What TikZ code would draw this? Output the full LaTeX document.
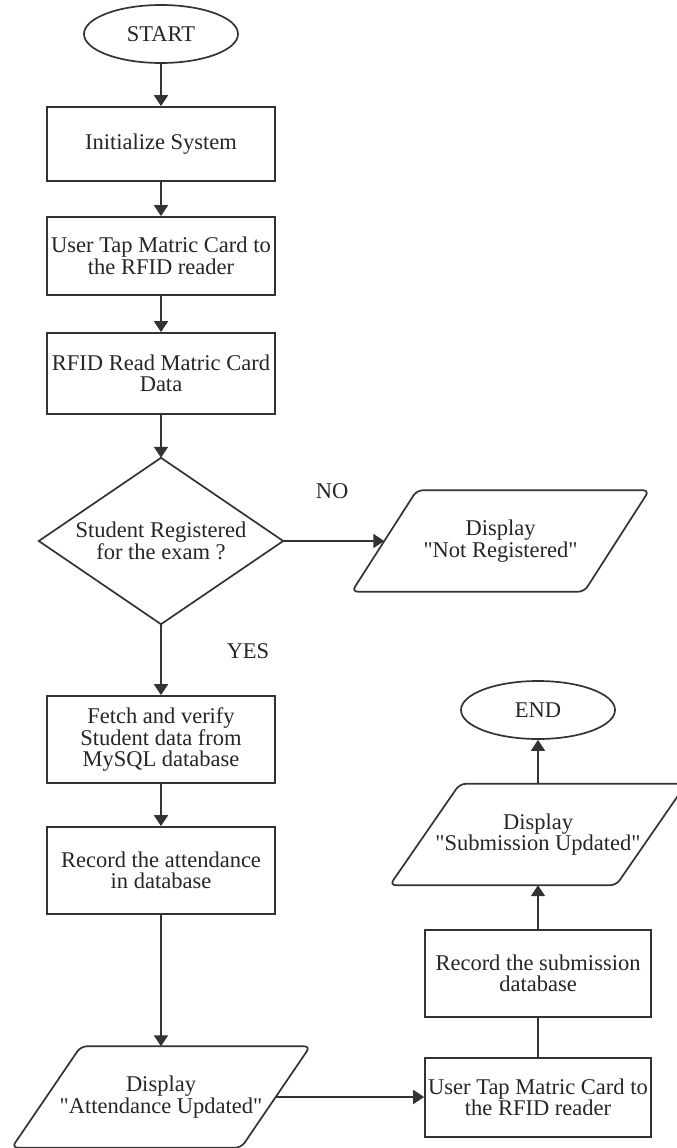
\documentclass[tikz,border=0pt]{standalone}
\usepackage{fontspec}
\setmainfont{Liberation Serif}
\usetikzlibrary{shapes.geometric,arrows.meta,calc}
\newcommand{\flowfont}{\fontsize{22.5}{21.5}\selectfont}
% draw a parallelogram around a (borderless) rectangle node: #1 node, #2 half slant
\newcommand{\iobox}[2]{%
  \draw[line, rounded corners=6pt]
    ($(#1.north west)+(#2,0)$) -- ($(#1.north east)+(#2,0)$) --
    ($(#1.south east)+(-#2,0)$) -- ($(#1.south west)+(-#2,0)$) -- cycle;}
\begin{document}
\begin{tikzpicture}[x=1pt,y=-1pt,
  line/.style={draw=black!80, line width=1.7pt},
  arr/.style={line, -{Triangle[width=14pt,length=11pt]}},
  txt/.style={font=\flowfont, text=black!85, align=center, inner sep=0pt},
  proc/.style={txt, line, rectangle, minimum width=228pt},
  term/.style={txt, line, ellipse, minimum width=154pt, minimum height=58pt},
  hid/.style={txt, rectangle, draw=none},
  io/.style={hid, minimum height=101pt},
  lbl/.style={txt}]
\clip (0,0) rectangle (677,1148);
\fill[white] (0,0) rectangle (677,1148);

% left column
\node[term] (start) at (161,34) {START};
\node[proc, minimum height=74pt] (init) at (161,144) {Initialize System};
\node[proc, minimum height=78pt] (tap1) at (161,256) {User Tap Matric Card to\\the RFID reader};
\node[proc, minimum height=81pt] (rfid) at (161,373.5) {RFID Read Matric Card\\Data};
\node[hid, minimum width=244pt, minimum height=166pt] (dec) at (161,541) {Student Registered\\for the exam ?};
\draw[line] (dec.north) -- (dec.east) -- (dec.south) -- (dec.west) -- cycle;
\node[io, minimum width=232pt] (notreg) at (500.5,541) {Display\\\textquotedbl Not Registered\textquotedbl};
\iobox{notreg}{32.5}
\node[proc, minimum height=87pt] (fetch) at (161,739.5) {Fetch and verify\\Student data from\\MySQL database};
\node[proc, minimum height=87pt] (record) at (161,870.5) {Record the attendance\\in database};
\node[io, minimum width=229pt] (att) at (161,1097) {Display\\\textquotedbl Attendance Updated\textquotedbl};
\iobox{att}{34.5}

% right column
\node[proc, minimum width=226pt, minimum height=79pt] (tap2) at (538,1097.5) {User Tap Matric Card to\\the RFID reader};
\node[proc, minimum width=226pt, minimum height=87pt] (recsub) at (538,973.5) {Record the submission\\database};
\node[io, minimum width=226pt] (sub) at (538,834.5) {Display\\\textquotedbl Submission Updated\textquotedbl};
\iobox{sub}{35}
\node[term] (end) at (538,710) {END};

% labels
\node[lbl] (no) at (332,491) {NO};
\node[lbl] (yes) at (248,651) {YES};

% connectors
\draw[arr] (start.south) -- (init.north);
\draw[arr] (init.south) -- (tap1.north);
\draw[arr] (tap1.south) -- (rfid.north);
\draw[arr] (rfid.south) -- (dec.north);
\draw[arr] (dec.east) -- (notreg.west);
\draw[arr] (dec.south) -- (fetch.north);
\draw[arr] (fetch.south) -- (record.north);
\draw[arr] (record.south) -- (att.north);
\draw[arr] (att.east) -- (att.east -| tap2.west);
\draw[line] (tap2.north) -- (recsub.south);
\draw[arr] (recsub.north) -- (sub.south);
\draw[arr] (sub.north) -- (end.south);
\end{tikzpicture}
\end{document}
